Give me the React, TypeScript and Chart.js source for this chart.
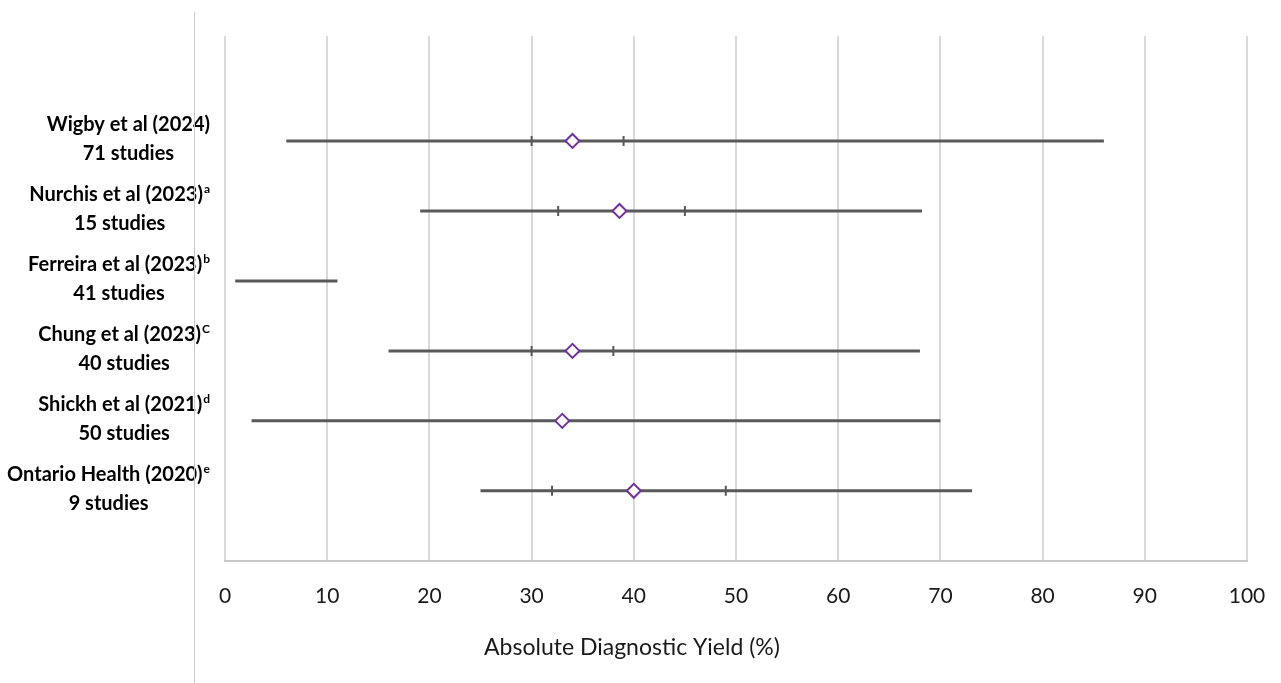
import React, { useEffect, useRef } from "react";
import { Chart, registerables } from "chart.js";

Chart.register(...registerables);

const studyNames = [
  "Wigby et al (2024)",
  "Nurchis et al (2023)",
  "Ferreira et al (2023)",
  "Chung et al (2023)",
  "Shickh et al (2021)",
  "Ontario Health (2020)",
];
const superscripts = ["", "a", "b", "C", "d", "e"];
const studyCounts = [71, 15, 41, 40, 50, 9];
const rangeLow = [6, 19.1, 1, 16, 2.6, 25];
const rangeHigh = [86, 68.2, 11, 68, 70, 73.1];
const innerLow: (number | null)[] = [30, 32.6, null, 30, null, 32];
const innerHigh: (number | null)[] = [39, 45, null, 38, null, 49];
const pointValues: (number | null)[] = [34, 38.6, null, 34, 33, 40];
const xTicks = [0, 10, 20, 30, 40, 50, 60, 70, 80, 90, 100];
const axisTitle = "Absolute Diagnostic Yield (%)";

const N = studyNames.length;
const rowY = (i: number) => N - i;

const LINE_COLOR = "#595959";
const MARK_COLOR = "#7030A0";

const labelPlugin = {
  id: "rowLabels",
  afterDraw(chart: any) {
    const ctx = chart.ctx as CanvasRenderingContext2D;
    const yScale = chart.scales.y;
    const rightEdge = 210;
    ctx.save();
    ctx.fillStyle = "#000000";
    ctx.textBaseline = "middle";
    ctx.textAlign = "left";
    const mainFont = "bold 20px Lato";
    const supFont = "bold 12px Lato";
    studyNames.forEach((name, i) => {
      const yc = yScale.getPixelForValue(rowY(i));
      const line2 = `${studyCounts[i]} studies`;
      ctx.font = mainFont;
      const w1 = ctx.measureText(name).width;
      const w2 = ctx.measureText(line2).width;
      ctx.font = supFont;
      const ws = superscripts[i] ? ctx.measureText(superscripts[i]).width + 1 : 0;
      const blockW = Math.max(w1 + ws, w2);
      const center = rightEdge - blockW / 2;
      const x1 = center - (w1 + ws) / 2;
      ctx.font = mainFont;
      ctx.fillText(name, x1, yc - 16);
      if (superscripts[i]) {
        ctx.font = supFont;
        ctx.fillText(superscripts[i], x1 + w1 + 1, yc - 22);
      }
      ctx.font = mainFont;
      ctx.fillText(line2, center - w2 / 2, yc + 13);
    });

    // axis title
    ctx.fillStyle = "#1a1a1a";
    ctx.font = "23px Lato";
    ctx.textAlign = "center";
    ctx.fillText(axisTitle, 632, 648);
    ctx.restore();
  },
};

export default function App() {
  const canvasRef = useRef<HTMLCanvasElement | null>(null);

  useEffect(() => {
    document.body.style.margin = "0";
    const canvas = canvasRef.current;
    if (!canvas) return;

    const rangeSets = studyNames.map((_, i) => ({
      type: "line" as const,
      label: `range-${i}`,
      data: [
        { x: rangeLow[i], y: rowY(i) },
        { x: rangeHigh[i], y: rowY(i) },
      ],
      borderColor: LINE_COLOR,
      borderWidth: 3,
      borderCapStyle: "butt" as const,
      pointRadius: 0,
      fill: false,
      order: 3,
    }));

    const innerData: { x: number; y: number }[] = [];
    studyNames.forEach((_, i) => {
      if (innerLow[i] !== null) innerData.push({ x: innerLow[i] as number, y: rowY(i) });
      if (innerHigh[i] !== null) innerData.push({ x: innerHigh[i] as number, y: rowY(i) });
    });

    const pointData: { x: number; y: number }[] = [];
    studyNames.forEach((_, i) => {
      if (pointValues[i] !== null) pointData.push({ x: pointValues[i] as number, y: rowY(i) });
    });

    const chart = new Chart(canvas, {
      type: "scatter",
      data: {
        datasets: [
          {
            type: "scatter",
            label: "point",
            data: pointData,
            pointStyle: "rectRot",
            pointRadius: 7,
            pointBorderWidth: 2,
            pointBorderColor: MARK_COLOR,
            pointBackgroundColor: "#ffffff",
            order: 1,
          },
          {
            type: "scatter",
            label: "inner",
            data: innerData,
            pointStyle: "line",
            rotation: 90,
            pointRadius: 5,
            pointBorderWidth: 2,
            pointBorderColor: LINE_COLOR,
            order: 2,
          } as any,
          ...rangeSets,
        ] as any,
      },
      options: {
        responsive: false,
        animation: false,
        layout: { padding: { left: 225, right: 34, top: 36, bottom: 51 } },
        plugins: {
          legend: { display: false },
          tooltip: { enabled: false },
          title: { display: false },
        },
        scales: {
          x: {
            type: "linear",
            min: 0,
            max: 100,
            afterBuildTicks: (axis: any) => {
              axis.ticks = xTicks.map((v) => ({ value: v }));
            },
            afterFit: (axis: any) => {
              axis.paddingLeft = 0;
              axis.paddingRight = 0;
            },
            grid: {
              color: "#d9d9d9",
              lineWidth: 2,
              drawTicks: false,
            },
            border: { display: true, color: "#c8c8c8", width: 2 },
            ticks: {
              color: "#1a1a1a",
              font: { family: "Lato", size: 21 },
              padding: 23,
            },
          },
          y: {
            type: "linear",
            min: 0,
            max: 7.5,
            display: false,
          },
        },
      },
      plugins: [labelPlugin],
    });

    return () => chart.destroy();
  }, []);

  return (
    <div style={{ position: "relative", width: 1281, height: 683, overflow: "hidden", background: "#ffffff" }}>
      <canvas ref={canvasRef} width={1281} height={683} style={{ display: "block" }} />
      <div
        style={{
          position: "absolute",
          left: 194,
          top: 12,
          width: 1,
          height: 671,
          background: "#c8c8c8",
        }}
      />
    </div>
  );
}
